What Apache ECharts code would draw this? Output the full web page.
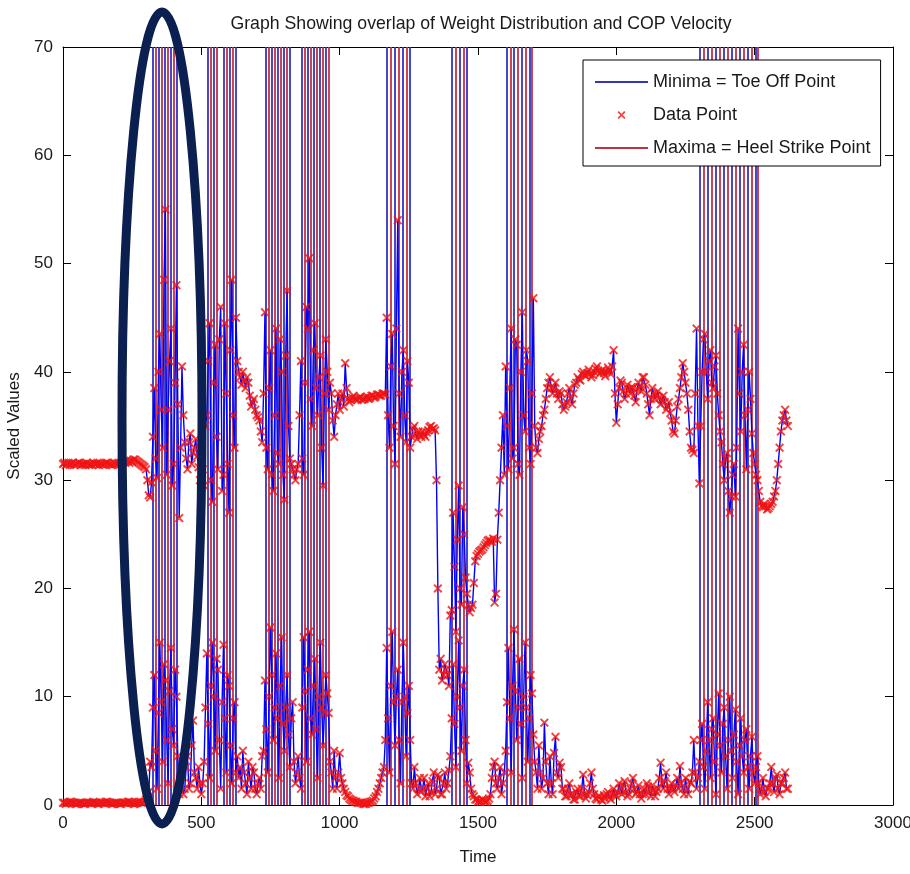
<!DOCTYPE html>
<html>
<head>
<meta charset="utf-8">
<script src="https://cdn.jsdelivr.net/npm/echarts@6/dist/echarts.min.js"></script>
<style>
  html, body { margin: 0; padding: 0; background: #fff; }
  #chart { width: 910px; height: 874px; }
</style>
</head>
<body>
<div id="chart"></div>
<script>
// one sample every 5 time units, starting at 0
const sampleStep = 5;

// weight distribution (upper trace)
const weight = [
  31.5, 31.6, 31.4, 31.5, 31.6, 31.4, 31.5, 31.6, 31.4, 31.5, 31.5, 31.6, 31.6, 31.4, 31.5, 31.5, 31.4, 31.6, 31.5, 31.4,
  31.5, 31.4, 31.6, 31.5, 31.5, 31.6, 31.4, 31.5, 31.5, 31.4, 31.5, 31.6, 31.6, 31.5, 31.5, 31.4, 31.4, 31.6, 31.5, 31.5,
  31.6, 31.5, 31.5, 31.7, 31.7, 31.6, 31.8, 31.7, 31.6, 31.8, 31.7, 31.9, 31.9, 31.8, 31.7, 31.6, 31.5, 31.4, 31.3, 31.2,
  31.0, 30.0, 28.6, 28.4, 29.8, 34.0, 38.5, 32.0, 30.2, 40.0, 43.5, 36.5, 33.0, 48.5, 55.0, 30.5, 36.5, 41.0, 44.0, 29.5,
  31.5, 39.0, 48.0, 37.0, 26.5, 33.0, 40.5, 36.0, 33.5, 32.0, 31.0, 33.5, 34.3, 31.5, 32.5, 33.0, 33.8, 32.2, 31.2, 30.0,
  32.8, 31.0, 29.5, 35.0, 36.0, 41.0, 44.5, 30.0, 28.0, 39.0, 42.5, 34.0, 31.0, 43.0, 46.0, 29.0, 30.5, 44.5, 38.0, 31.5,
  27.0, 42.0, 48.5, 36.0, 33.0, 45.0, 41.0, 40.0, 39.5, 38.8, 40.0, 39.2, 38.5, 39.5, 39.0, 37.8, 36.8, 37.2, 37.5, 36.5,
  36.0, 35.8, 35.5, 34.5, 33.5, 38.0, 45.5, 33.0, 31.0, 38.5, 42.0, 30.5, 29.0, 36.0, 44.0, 32.5, 31.5, 43.0, 40.0, 30.5,
  28.2, 41.5, 47.5, 35.0, 32.0, 31.5, 31.0, 30.5, 30.0, 31.0, 31.5, 36.0, 41.0, 32.0, 30.5, 39.0, 46.0, 44.0, 50.5, 37.5,
  35.0, 42.0, 44.5, 38.5, 36.0, 39.5, 41.5, 33.0, 29.5, 38.0, 43.0, 40.0, 36.5, 39.0, 38.0, 35.5, 34.0, 36.0, 37.0, 38.0,
  36.5, 37.5, 38.0, 36.8, 40.8, 38.5, 37.5, 37.2, 37.4, 37.6, 37.8, 37.5, 37.5, 37.4, 37.6, 37.7, 37.4, 37.5, 37.5, 37.6,
  37.7, 37.5, 37.6, 37.8, 37.8, 37.6, 37.7, 37.9, 37.9, 37.8, 37.8, 38.0, 38.0, 37.9, 45.0, 36.0, 33.0, 40.5, 43.5, 35.0,
  31.5, 44.0, 54.0, 38.0, 34.0, 40.0, 42.0, 36.0, 33.5, 41.0, 39.0, 33.0, 34.0, 34.8, 35.0, 34.2, 33.8, 34.5, 34.2, 34.0,
  34.5, 34.2, 34.0, 34.4, 34.6, 34.9, 35.0, 34.7, 34.8, 34.6, 30.0, 20.0, 12.5, 13.5, 11.5, 12.0, 13.0, 12.5, 12.0, 11.0,
  17.5, 18.0, 27.0, 22.0, 16.0, 24.5, 29.5, 20.0, 18.5, 27.5, 25.0, 21.0, 19.5, 18.5, 17.8, 18.2, 18.5, 20.5, 22.5, 23.0,
  23.2, 23.4, 23.5, 23.6, 23.8, 24.0, 24.2, 24.4, 24.5, 24.3, 24.3, 24.6, 18.7, 19.5, 24.5, 27.0, 30.0, 33.0, 36.0, 30.5,
  40.5, 35.0, 31.0, 38.5, 44.0, 32.0, 33.0, 43.0, 42.5, 31.5, 30.5, 40.0, 45.5, 36.0, 34.5, 42.0, 41.0, 33.0, 31.5, 38.0,
  46.8, 35.0, 33.0, 32.5, 33.8, 34.5, 35.0, 36.0, 36.5, 37.5, 38.5, 39.0, 39.5, 38.5, 38.0, 38.5, 39.0, 38.0, 37.5, 38.2,
  38.0, 37.0, 36.5, 36.8, 37.2, 38.0, 38.5, 37.5, 37.0, 38.0, 38.8, 39.0, 39.5, 39.3, 39.2, 39.8, 40.0, 39.7, 39.6, 39.9,
  40.2, 39.8, 39.5, 39.7, 40.0, 40.3, 40.5, 40.1, 39.8, 40.0, 40.2, 39.9, 39.6, 40.0, 40.4, 40.1, 39.8, 40.5, 42.0, 38.0,
  35.3, 37.0, 38.5, 39.2, 39.0, 38.2, 37.5, 38.0, 38.8, 38.4, 38.0, 38.6, 38.5, 37.8, 37.2, 38.4, 39.0, 38.6, 38.2, 39.5,
  39.5, 38.8, 38.0, 37.0, 36.0, 37.5, 38.5, 38.0, 37.5, 37.8, 38.2, 37.6, 37.0, 37.4, 37.8, 37.2, 36.5, 36.8, 37.2, 36.2,
  35.5, 34.5, 34.3, 35.5, 36.8, 37.5, 38.5, 39.5, 40.8, 40.0, 39.0, 38.0, 36.5, 34.5, 33.0, 32.8, 32.5, 38.0, 44.0, 35.0,
  29.7, 35.0, 40.0, 43.0, 43.5, 40.0, 37.5, 41.0, 42.0, 39.0, 38.5, 40.5, 41.5, 38.0, 36.0, 34.5, 33.5, 31.5, 30.0, 32.0,
  32.5, 29.0, 27.0, 28.5, 30.5, 31.5, 28.5, 33.0, 44.0, 38.0, 34.5, 40.0, 42.5, 36.0, 31.0, 36.5, 40.0, 37.5, 34.3, 32.5,
  31.5, 30.5, 30.0, 29.0, 28.0, 27.6, 27.5, 27.8, 27.6, 27.3, 27.4, 27.6, 27.8, 28.0, 28.5, 29.0, 30.0, 31.5, 33.0, 34.5,
  35.5, 36.0, 36.5, 35.5, 35.0
];

// COP velocity (lower trace)
const cop = [
  0.2, 0.2, 0.1, 0.2, 0.2, 0.3, 0.3, 0.2, 0.2, 0.1, 0.1, 0.2, 0.2, 0.2, 0.2, 0.1, 0.1, 0.2, 0.2, 0.2,
  0.2, 0.2, 0.3, 0.2, 0.2, 0.1, 0.1, 0.2, 0.2, 0.2, 0.2, 0.3, 0.3, 0.2, 0.2, 0.1, 0.1, 0.2, 0.2, 0.2,
  0.2, 0.1, 0.1, 0.2, 0.2, 0.2, 0.2, 0.3, 0.3, 0.2, 0.2, 0.1, 0.1, 0.2, 0.2, 0.3, 0.3, 0.2, 0.2, 0.3,
  0.5, 0.8, 1.2, 4.0, 3.5, 9.0, 12.0, 5.0, 1.5, 8.5, 15.0, 9.5, 4.0, 13.0, 11.5, 6.0, 2.0, 10.5, 14.5, 7.0,
  5.5, 12.5, 10.0, 4.5, 1.0, 2.5, 3.0, 1.0, 1.5, 3.5, 4.5, 1.5, 2.0, 5.5, 7.8, 3.0, 2.5, 1.5, 3.5, 2.0,
  1.0, 2.0, 4.0, 9.0, 14.0, 7.5, 2.5, 11.0, 15.0, 10.0, 5.0, 13.5, 12.5, 6.0, 1.5, 9.5, 14.8, 8.0, 3.0, 12.0,
  11.0, 5.5, 2.0, 8.0, 9.5, 3.0, 4.5, 2.5, 3.5, 1.5, 5.0, 3.0, 2.0, 1.0, 4.0, 2.5, 1.5, 3.5, 3.0, 1.5,
  1.0, 2.0, 2.5, 1.5, 4.5, 5.0, 11.5, 7.0, 3.0, 10.0, 16.4, 12.0, 6.0, 9.0, 14.0, 8.0, 2.5, 11.0, 15.5, 7.5,
  5.0, 9.0, 12.0, 6.5, 3.5, 8.0, 9.5, 4.0, 2.0, 3.0, 4.5, 2.5, 1.5, 9.0, 15.5, 10.5, 4.0, 12.5, 16.0, 8.0,
  6.5, 11.0, 13.5, 7.0, 2.5, 10.0, 15.0, 9.0, 5.5, 8.5, 12.0, 10.3, 8.5, 4.0, 3.0, 1.5, 5.0, 2.5, 1.5, 3.0,
  4.8, 2.5, 2.0, 1.5, 1.2, 0.9, 0.8, 0.6, 0.5, 0.4, 0.4, 0.3, 0.3, 0.2, 0.2, 0.2, 0.2, 0.1, 0.1, 0.1,
  0.2, 0.2, 0.3, 0.3, 0.4, 0.6, 0.8, 1.2, 1.5, 2.0, 2.5, 3.0, 3.5, 6.0, 14.5, 8.0, 3.0, 11.0, 16.0, 9.5,
  5.5, 10.0, 12.5, 6.0, 2.0, 9.5, 15.0, 10.0, 4.5, 8.5, 11.0, 6.0, 2.0, 1.5, 3.5, 2.0, 1.0, 1.5, 2.5, 1.2,
  1.5, 2.5, 0.8, 1.5, 2.0, 0.8, 1.2, 2.2, 3.0, 1.0, 1.5, 2.8, 2.5, 1.0, 1.0, 2.0, 3.0, 1.5, 2.0, 3.2,
  4.5, 8.0, 13.0, 7.5, 3.5, 10.0, 15.2, 9.0, 5.0, 11.0, 12.5, 6.0, 2.0, 3.9, 3.0, 1.5, 1.0, 0.8, 0.5, 0.5,
  0.3, 0.4, 0.3, 0.5, 0.4, 0.3, 0.3, 0.4, 0.6, 1.0, 2.5, 3.5, 4.0, 2.0, 1.5, 2.5, 3.5, 1.0, 2.0, 3.0,
  5.0, 9.5, 14.5, 8.0, 3.0, 11.0, 16.2, 10.5, 6.0, 9.0, 13.5, 7.5, 2.5, 10.0, 15.0, 9.0, 4.0, 8.0, 12.0, 10.3,
  6.5, 4.0, 3.0, 1.5, 5.5, 3.0, 1.5, 2.5, 7.6, 4.0, 2.0, 1.0, 4.5, 2.0, 1.0, 4.8, 6.3, 3.0, 2.5, 3.9,
  3.5, 1.5, 1.5, 0.8, 0.8, 1.5, 2.0, 1.0, 1.0, 0.5, 0.5, 1.2, 1.5, 0.8, 0.8, 1.5, 2.8, 1.0, 0.6, 0.9,
  1.2, 2.0, 3.0, 1.5, 1.0, 0.6, 0.5, 0.8, 0.8, 0.5, 0.4, 0.9, 0.6, 1.0, 1.2, 0.7, 0.5, 1.0, 1.5, 1.0,
  0.8, 1.2, 2.0, 1.5, 1.0, 1.8, 2.2, 1.2, 0.8, 1.0, 1.5, 2.0, 2.5, 1.5, 1.0, 1.2, 1.8, 1.0, 0.6, 1.0,
  1.5, 1.0, 2.0, 1.7, 1.2, 0.8, 1.8, 1.4, 0.8, 1.2, 1.5, 2.5, 3.9, 2.0, 1.5, 2.2, 3.0, 1.5, 1.0, 1.5,
  2.0, 1.5, 1.2, 1.8, 2.5, 1.5, 3.6, 2.0, 1.5, 1.0, 2.5, 1.5, 1.0, 2.2, 2.0, 3.0, 6.0, 3.0, 1.5, 2.5,
  4.0, 6.0, 7.5, 3.5, 1.5, 5.0, 9.5, 6.0, 2.5, 7.0, 8.0, 4.0, 1.0, 6.5, 10.3, 5.5, 3.0, 7.5, 9.0, 4.5,
  1.5, 6.0, 10.0, 5.0, 2.5, 6.5, 8.8, 4.0, 1.0, 5.5, 8.0, 4.5, 3.0, 6.0, 7.0, 3.5, 1.5, 4.5, 6.3, 3.0,
  2.0, 3.5, 4.5, 2.0, 1.0, 1.5, 2.5, 1.2, 0.8, 1.5, 1.5, 2.0, 3.5, 2.0, 1.2, 2.5, 2.8, 1.5, 1.0, 2.0,
  2.0, 2.5, 3.0, 1.5, 1.5
];

// toe off (minima) and heel strike (maxima) times, drawn as full-height lines
const minimaT = [
  325, 347, 369, 390, 412, 524, 546, 582, 604, 625,
  734, 755, 777, 799, 820, 864, 886, 907, 929, 951,
  1171, 1200, 1229, 1254, 1406, 1435, 1460, 1605, 1630, 1659, 1688,
  2302, 2331, 2360, 2389, 2418, 2447, 2476, 2504
];
const maximaT = [
  336, 358, 380, 401, 535, 557, 593, 615, 745, 766, 788, 810,
  875, 896, 918, 940, 961, 1186, 1214, 1243, 1420, 1449,
  1619, 1645, 1673, 1695, 2317, 2346, 2374, 2403, 2432, 2461, 2490, 2512
];

const font = "'Liberation Sans', Arial, sans-serif";
const blueLine = '#3434c4';
const redLine = '#c43040';
const xMark = 'path://M0,1.5L1.5,0L5,3.5L8.5,0L10,1.5L6.5,5L10,8.5L8.5,10L5,6.5L1.5,10L0,8.5L3.5,5Z';
const lineIcon = 'path://M0,0H53V2H0Z';

const weightPts = weight.map((v, i) => [i * sampleStep, v]);
const copPts = cop.map((v, i) => [i * sampleStep, v]);

const tick = { show: true, inside: true, length: 8, lineStyle: { color: '#000' } };
const axisLine = { show: true, onZero: false, lineStyle: { color: '#000', width: 1 } };
const labelStyle = { fontSize: 17, color: '#1a1a1a', fontFamily: font };

function vLines(name, times, color) {
  return {
    name: name,
    type: 'line',
    data: [],
    symbol: 'none',
    lineStyle: { color: color, width: 2 },
    itemStyle: { color: color },
    z: 1,
    markLine: {
      silent: true,
      z: 1,
      symbol: ['none', 'none'],
      label: { show: false },
      lineStyle: { color: color, width: 1.8, type: 'solid' },
      emphasis: { disabled: true },
      data: times.map(t => ({ xAxis: t }))
    }
  };
}

const chart = echarts.init(document.getElementById('chart'));

chart.setOption({
  animation: false,
  title: {
    text: 'Graph Showing overlap of Weight Distribution and COP Velocity',
    left: 476,
    top: 10,
    textAlign: 'center',
    textStyle: { fontSize: 17.7, fontWeight: 'normal', color: '#1a1a1a', fontFamily: font }
  },
  legend: {
    orient: 'vertical',
    left: 583,
    top: 60,
    z: 10,
    padding: [12, 10, 8, 12],
    itemWidth: 53,
    itemHeight: 8,
    itemGap: 13,
    borderColor: '#000',
    borderWidth: 1,
    backgroundColor: '#fff',
    textStyle: { fontSize: 18, lineHeight: 20, color: '#1a1a1a', fontFamily: font },
    data: [
      { name: 'Minima = Toe Off Point', icon: lineIcon },
      { name: 'Data Point' },
      { name: 'Maxima = Heel Strike Point', icon: lineIcon }
    ]
  },
  grid: { left: 63, right: 17, top: 47, bottom: 69, outerBoundsMode: 'none' },
  xAxis: [
    {
      type: 'value', min: 0, max: 3000, interval: 500, position: 'bottom',
      axisLine: axisLine, axisTick: tick, splitLine: { show: false },
      axisLabel: Object.assign({ margin: 10, formatter: v => String(v) }, labelStyle),
      name: 'Time', nameLocation: 'middle', nameGap: 44,
      nameTextStyle: labelStyle
    },
    {
      type: 'value', min: 0, max: 3000, interval: 500, position: 'top',
      axisLine: axisLine, axisTick: tick, splitLine: { show: false },
      axisLabel: { show: false }
    }
  ],
  yAxis: [
    {
      type: 'value', min: 0, max: 70, interval: 10, position: 'left',
      axisLine: axisLine, axisTick: tick, splitLine: { show: false },
      axisLabel: Object.assign({ margin: 10 }, labelStyle),
      name: 'Scaled Values', nameLocation: 'middle', nameGap: 30,
      nameTextStyle: labelStyle
    },
    {
      type: 'value', min: 0, max: 70, interval: 10, position: 'right',
      axisLine: axisLine, axisTick: tick, splitLine: { show: false },
      axisLabel: { show: false }
    }
  ],
  series: [
    vLines('Minima = Toe Off Point', minimaT, blueLine),
    vLines('Maxima = Heel Strike Point', maximaT, redLine),
    {
      type: 'line', data: weightPts, symbol: 'none', silent: true, z: 3,
      lineStyle: { color: '#0000ff', width: 1.4 }
    },
    {
      type: 'line', data: copPts, symbol: 'none', silent: true, z: 3,
      lineStyle: { color: '#0000ff', width: 1.4 }
    },
    {
      name: 'Data Point',
      type: 'scatter',
      data: weightPts.concat(copPts),
      symbol: xMark,
      symbolSize: 9,
      itemStyle: { color: '#f01414' },
      silent: true,
      z: 4
    }
  ],
  graphic: [
    {
      type: 'ellipse',
      silent: true,
      z: 100,
      shape: { cx: 162, cy: 418, rx: 40, ry: 406 },
      style: { fill: 'none', stroke: '#0b2050', lineWidth: 9 }
    }
  ]
});
</script>
</body>
</html>
